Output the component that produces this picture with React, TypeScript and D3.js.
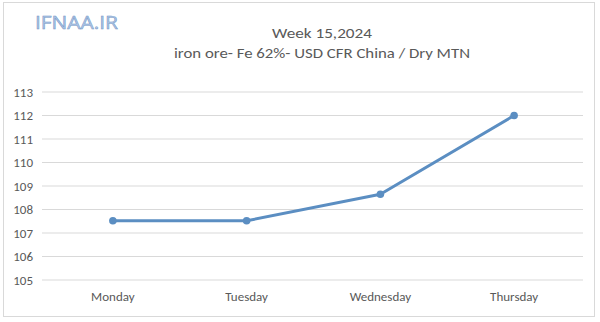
import React from "react";
import * as d3 from "d3";

const categories = ["Monday", "Tuesday", "Wednesday", "Thursday"];
const prices = [107.52, 107.52, 108.65, 112.0];
const yTicks = [105, 106, 107, 108, 109, 110, 111, 112, 113];
const titleText = "Week  15,2024";
const subtitleText = "iron ore- Fe 62%- USD CFR China / Dry MTN";
const logoText = "IFNAA.IR";

export default function App() {
  const W = 600, H = 322;
  const x = d3.scalePoint<string>().domain(categories).range([46, 581]).padding(0.5);
  const y = d3.scaleLinear().domain([105, 113]).range([280, 92]);
  const line = d3.line<number>().x((_, i) => x(categories[i])!).y((d) => y(d));
  const font = "Carlito, Calibri, 'Open Sans', sans-serif";
  return (
    <svg width={W} height={H} style={{ position: "absolute", left: 0, top: 0, background: "#fff" }}>
      <rect x={0} y={0} width={W} height={H} fill="#fff" />
      <rect x={3.5} y={2.5} width={591} height={314} fill="none" stroke="#d9d9d9" strokeWidth={1} />
      <text x={35} y={29} fontFamily="'Open Sans', sans-serif" fontSize={19} fill="#aec6e6" stroke="#7396c6" strokeWidth={0.5} textLength={83} lengthAdjust="spacingAndGlyphs">{logoText}</text>
      <text x={272} y={38} fontFamily={font} fontSize={14.5} fill="#595959" textLength={100} lengthAdjust="spacingAndGlyphs">{titleText}</text>
      <text x={174} y={58} fontFamily={font} fontSize={14.5} fill="#595959" textLength={296} lengthAdjust="spacingAndGlyphs">{subtitleText}</text>
      {yTicks.map((t) => (
        <g key={t}>
          <line x1={42} x2={583} y1={y(t)} y2={y(t)} stroke="#d9d9d9" strokeWidth={1} />
          <text x={33} y={y(t)} dy="0.35em" textAnchor="end" fontFamily={font} fontSize={13} fill="#595959">{t}</text>
        </g>
      ))}
      {categories.map((c) => (
        <text key={c} x={x(c)!} y={301} textAnchor="middle" fontFamily={font} fontSize={13} fill="#595959">{c}</text>
      ))}
      <path d={line(prices)!} fill="none" stroke="#5b8ec2" strokeWidth={3} strokeLinejoin="round" />
      {prices.map((p, i) => (
        <circle key={i} cx={x(categories[i])!} cy={y(p)} r={3.8} fill="#5b8ec2" />
      ))}
    </svg>
  );
}
